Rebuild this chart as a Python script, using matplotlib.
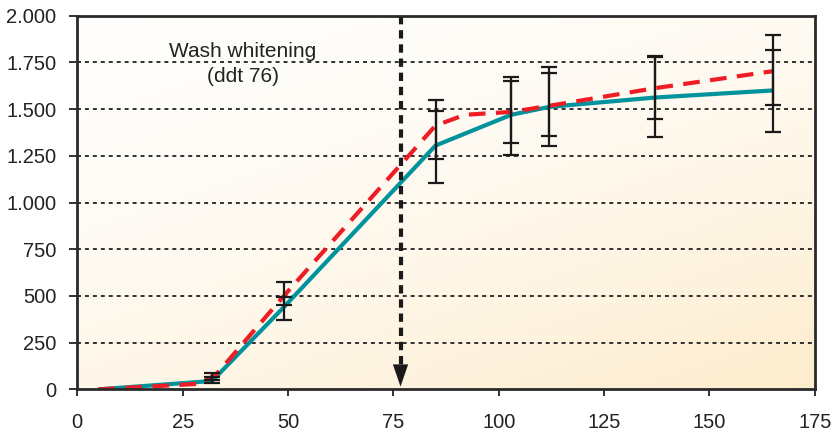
import numpy as np
import matplotlib.pyplot as plt

plt.rcParams['font.family'] = ['Liberation Sans', 'DejaVu Sans']

# solid teal series
x_teal = [5, 32, 49, 85, 103, 112, 137, 165]
y_teal = [0, 45, 440, 1305, 1470, 1512, 1562, 1600]

# dashed red series
x_red = [5, 29, 33, 49, 85, 92, 103, 112, 137, 165]
y_red = [0, 30, 80, 500, 1412, 1470, 1485, 1518, 1612, 1703]

# error bars (two per position): low / high
err_x = [32, 49, 85, 103, 112, 137, 165]
err_a_lo = [34, 370, 1103, 1255, 1303, 1353, 1380]
err_a_hi = [89, 575, 1550, 1671, 1728, 1786, 1895]
err_b_lo = [50, 454, 1233, 1321, 1357, 1446, 1523]
err_b_hi = [65, 495, 1491, 1648, 1693, 1780, 1818]

y_ticks = [0, 250, 500, 750, 1000, 1250, 1500, 1750, 2000]
y_tick_labels = ['0', '250', '500', '750', '1.000', '1.250', '1.500', '1.750', '2.000']
x_ticks = [0, 25, 50, 75, 100, 125, 150, 175]

marker_x = 76.7
note = 'Wash whitening\n(ddt 76)'

fig = plt.figure(figsize=(8.4, 4.37), dpi=100)
ax = fig.add_axes([0.092, 0.109, 0.878, 0.855])

# background gradient (white top-left -> cream bottom-right)
gx, gy = np.meshgrid(np.linspace(0, 1, 200), np.linspace(0, 1, 200))
t = np.clip((gx * 0.8 + (1 - gy) * 1.2) / 2, 0, 1) ** 1.8
c0 = np.array([1.0, 0.995, 0.985])
c1 = np.array([0.992, 0.925, 0.80])
img = c0 + (c1 - c0) * t[..., None]
ax.imshow(img, extent=[0, 1, 0, 1], origin='lower', transform=ax.transAxes,
          aspect='auto', zorder=0)

ax.set_xlim(0, 175)
ax.set_ylim(0, 2000)

for yv in y_ticks[1:-1]:
    ax.axhline(yv, color='#222222', lw=1.3, linestyle=(0, (2.2, 2.2)), zorder=1)

def draw_err(lo, hi):
    lo = np.array(lo)
    hi = np.array(hi)
    mid = (lo + hi) / 2
    ax.errorbar(err_x, mid, yerr=[mid - lo, hi - mid], fmt='none', ecolor='#1a1a1a',
                elinewidth=1.6, capsize=6, capthick=1.6, zorder=4)

draw_err(err_a_lo, err_a_hi)
draw_err(err_b_lo, err_b_hi)

ax.plot(x_teal, y_teal, color='#00939b', lw=3, zorder=3, solid_capstyle='butt')
ax.plot(x_red, y_red, color='#ee1c25', lw=3, linestyle=(0, (4, 2.5)), zorder=3.5)

# vertical dashed arrow
ax.plot([marker_x, marker_x], [2000, 120], color='#1a1a1a', lw=3, linestyle=(0, (2, 1.4)), zorder=5)
ax.annotate('', xy=(marker_x, 0), xytext=(marker_x, 130),
            arrowprops=dict(arrowstyle='-|>,head_length=1.6,head_width=0.55', color='#1a1a1a', lw=0),
            zorder=5)

ax.text(39.3, 1740, note, ha='center', va='center', fontsize=15, color='#222222',
        linespacing=1.4, zorder=6)

ax.set_yticks(y_ticks)
ax.set_yticklabels(y_tick_labels)
ax.set_xticks(x_ticks)
ax.tick_params(axis='y', length=6, width=1.3, pad=9, labelsize=14.5, colors='#222222')
ax.tick_params(axis='x', length=5, width=1.3, pad=12, labelsize=14.5, colors='#222222')

for s in ax.spines.values():
    s.set_linewidth(2)
    s.set_color('#2a2a2a')
    s.set_zorder(7)

fig.savefig('out.png', dpi=100)
